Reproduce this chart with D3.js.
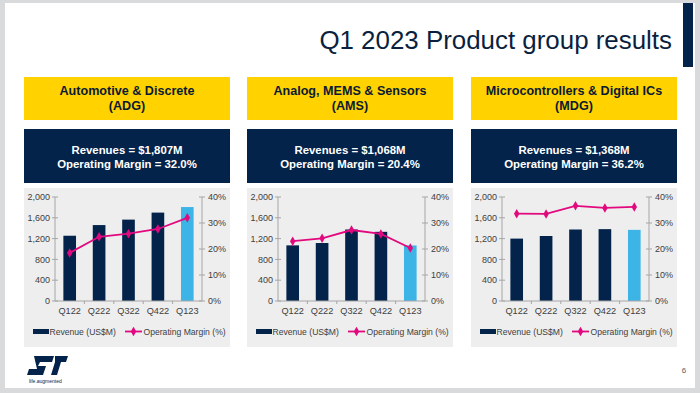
<!DOCTYPE html>
<html><head><meta charset="utf-8">
<script src="https://cdn.jsdelivr.net/npm/d3@7"></script>
<style>html,body{margin:0;padding:0;background:#d9dadb;}svg{display:block;font-family:"Liberation Sans",Arial,sans-serif;}</style>
</head><body>
<svg id="c" width="700" height="393"></svg>
<script>
const categories = ["Q122","Q222","Q322","Q422","Q123"];
const groupNames = ["Automotive & Discrete","Analog, MEMS & Sensors","Microcontrollers & Digital ICs"];
const groupCodes = ["(ADG)","(AMS)","(MDG)"];
const headlineRevenue = ["$1,807M","$1,068M","$1,368M"];
const headlineMargin = ["32.0%","20.4%","36.2%"];
const adgRevenue = [1255,1460,1565,1700,1807];
const adgMargin = [18.5,24.7,25.9,27.7,32.0];
const amsRevenue = [1070,1115,1375,1330,1068];
const amsMargin = [23.0,24.1,27.3,25.8,20.4];
const mdgRevenue = [1200,1250,1375,1382,1368];
const mdgMargin = [33.6,33.5,36.6,35.8,36.2];
const revenueTicks = [0,400,800,1200,1600,2000];
const marginTicks = [0,10,20,30,40];
const legendLabels = ["Revenue (US$M)","Operating Margin (%)"];
const title = "Q1 2023 Product group results";

const revenues = [adgRevenue, amsRevenue, mdgRevenue];
const margins = [adgMargin, amsMargin, mdgMargin];

const NAVY = "#03234b", BLUE = "#3cb4e6", PINK = "#e2097f", YELLOW = "#ffd200";
const svg = d3.select("#c");

// slide
svg.append("rect").attr("x",5).attr("y",3).attr("width",690).attr("height",385).attr("fill","#fff");
svg.append("rect").attr("x",683).attr("y",3).attr("width",10).attr("height",64).attr("fill",NAVY);
svg.append("text").attr("x",672).attr("y",49).attr("text-anchor","end")
  .attr("font-size",25.9).attr("fill","#0b1f3f").text(title);

const panelX = [24,247,471], panelW = 206;
const yRev = d3.scaleLinear().domain([0,2000]).range([301,197]);
const yMar = d3.scaleLinear().domain([0,40]).range([301,197]);

panelX.forEach((px,i)=>{
  const g = svg.append("g");
  g.append("rect").attr("x",px).attr("y",77).attr("width",panelW).attr("height",43).attr("fill",YELLOW);
  g.append("text").attr("x",px+panelW/2).attr("y",95).attr("text-anchor","middle")
    .attr("font-size",12.6).attr("font-weight","bold").attr("fill","#0a1a33").text(groupNames[i]);
  g.append("text").attr("x",px+panelW/2).attr("y",109.5).attr("text-anchor","middle")
    .attr("font-size",12.6).attr("font-weight","bold").attr("fill","#0a1a33").text(groupCodes[i]);
  g.append("rect").attr("x",px).attr("y",129).attr("width",panelW).attr("height",54).attr("fill",NAVY);
  g.append("text").attr("x",px+panelW/2).attr("y",154).attr("text-anchor","middle")
    .attr("font-size",11.4).attr("font-weight","bold").attr("fill","#fff").text("Revenues = "+headlineRevenue[i]);
  g.append("text").attr("x",px+panelW/2).attr("y",168).attr("text-anchor","middle")
    .attr("font-size",11.4).attr("font-weight","bold").attr("fill","#fff").text("Operating Margin = "+headlineMargin[i]);
  g.append("rect").attr("x",px).attr("y",188).attr("width",panelW).attr("height",159).attr("fill","#eeeeee");

  const x0 = px+31, x1 = px+178;
  const x = d3.scaleBand().domain(categories).range([x0,x1]).paddingInner(0.57).paddingOuter(0.285);
  const step = x.step();

  // bars
  g.selectAll(".bar").data(categories).enter().append("rect")
    .attr("x",d=>x(d)).attr("width",x.bandwidth())
    .attr("y",(d,j)=>yRev(revenues[i][j])).attr("height",(d,j)=>yRev(0)-yRev(revenues[i][j]))
    .attr("fill",(d,j)=>j===categories.length-1?BLUE:NAVY);

  // axes
  const axCol = "#a6a6a6";
  g.append("line").attr("x1",x0).attr("x2",x0).attr("y1",yRev(2000)).attr("y2",yRev(0)).attr("stroke",axCol);
  g.append("line").attr("x1",x1).attr("x2",x1).attr("y1",yMar(40)).attr("y2",yMar(0)).attr("stroke",axCol);
  g.append("line").attr("x1",x0).attr("x2",x1).attr("y1",yRev(0)).attr("y2",yRev(0)).attr("stroke",axCol);
  revenueTicks.forEach(t=>{
    g.append("line").attr("x1",x0-3).attr("x2",x0+3).attr("y1",yRev(t)).attr("y2",yRev(t)).attr("stroke",axCol);
    g.append("text").attr("x",x0-5).attr("y",yRev(t)+3.2).attr("text-anchor","end")
      .attr("font-size",9).attr("fill","#404040").text(d3.format(",")(t));
  });
  marginTicks.forEach(t=>{
    g.append("line").attr("x1",x1-3).attr("x2",x1+3).attr("y1",yMar(t)).attr("y2",yMar(t)).attr("stroke",axCol);
    g.append("text").attr("x",x1+6).attr("y",yMar(t)+3.2).attr("text-anchor","start")
      .attr("font-size",9).attr("fill","#404040").text(t+"%");
  });
  categories.forEach((c,j)=>{
    if(j>0){
      const bx = x(c) - (step - x.bandwidth())/2;
      g.append("line").attr("x1",bx).attr("x2",bx).attr("y1",yRev(0)).attr("y2",yRev(0)+3).attr("stroke",axCol);
    }
    g.append("text").attr("x",x(c)+x.bandwidth()/2).attr("y",313.5).attr("text-anchor","middle")
      .attr("font-size",9.2).attr("fill","#404040").text(c);
  });

  // line
  const line = d3.line().x((d,j)=>x(categories[j])+x.bandwidth()/2).y(d=>yMar(d));
  g.append("path").datum(margins[i]).attr("d",line).attr("fill","none").attr("stroke",PINK).attr("stroke-width",1.8);
  const diamond = d3.symbol().type(d3.symbolDiamond).size(26);
  g.selectAll(".pt").data(margins[i]).enter().append("path")
    .attr("d",diamond).attr("transform",(d,j)=>`translate(${x(categories[j])+x.bandwidth()/2},${yMar(d)})`)
    .attr("fill",PINK);

  // legend
  g.append("rect").attr("x",px+9).attr("y",329).attr("width",16).attr("height",5).attr("fill",NAVY);
  g.append("text").attr("x",px+25.5).attr("y",334.5).attr("font-size",8.6).attr("fill","#404040").text(legendLabels[0]);
  g.append("line").attr("x1",px+101).attr("x2",px+118).attr("y1",331.5).attr("y2",331.5).attr("stroke",PINK).attr("stroke-width",1.8);
  g.append("path").attr("d",diamond).attr("transform",`translate(${px+109.5},331.5)`).attr("fill",PINK);
  g.append("text").attr("x",px+119.5).attr("y",334.5).attr("font-size",8.6).attr("fill","#404040").text(legendLabels[1]);
});

// footer logo
const logo = svg.append("g").attr("fill",NAVY);
logo.append("path").attr("d","M34,356 L54,356 L52,362 L40,362 L38,366 L46,366 L43,375 L27,375 L29,369 L37,369 Z");
logo.append("path").attr("d","M55,356 L68,356 L66,362 L61,362 L57,375 L51,375 L55,362 Z");
svg.append("text").attr("x",29).attr("y",383).attr("font-size",5).attr("fill",NAVY).text("life.augmented");
svg.append("text").attr("x",684).attr("y",373).attr("text-anchor","middle").attr("font-size",8).attr("fill","#595959").text("6");
</script>
</body></html>
